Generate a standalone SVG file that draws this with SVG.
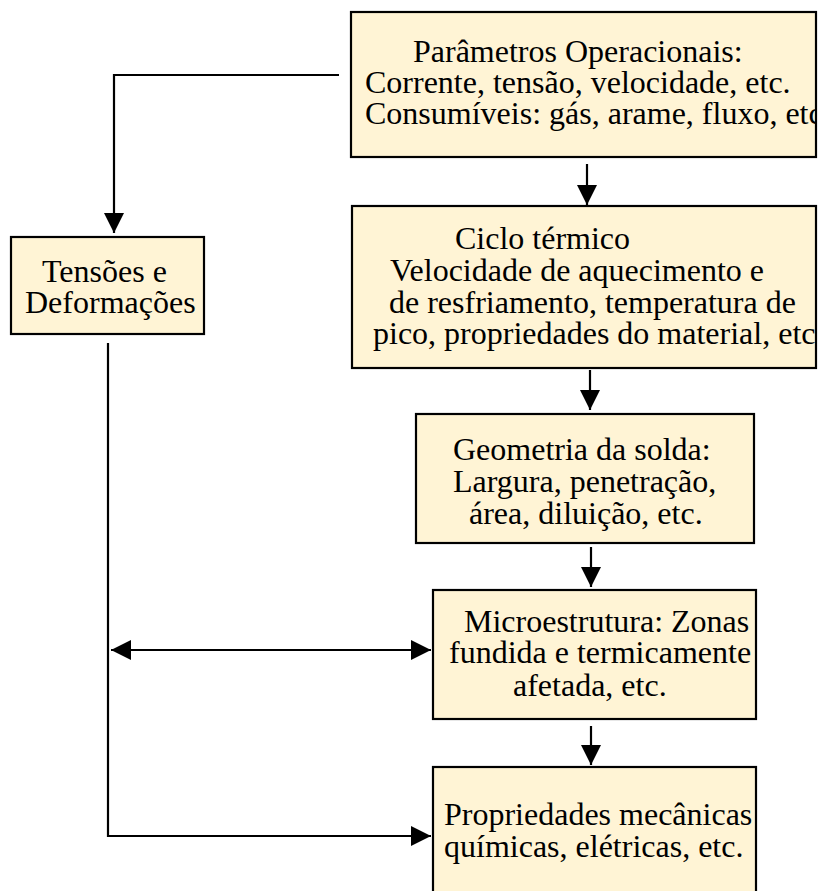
<svg xmlns="http://www.w3.org/2000/svg" width="819" height="891" viewBox="0 0 819 891">
<style>
.box{fill:#FFF4D5;stroke:#000;stroke-width:2.2}
.t{font-family:"Liberation Serif","Times New Roman",serif;font-size:32px;fill:#000}
.c{fill:none;stroke:#000;stroke-width:2.2}
</style>
<defs>
<marker id="ah" markerUnits="userSpaceOnUse" markerWidth="20" markerHeight="21" viewBox="0 0 10 10" refX="10" refY="5" orient="auto-start-reverse">
<path d="M0,0 L10,5 L0,10 z" fill="#000"/>
</marker>
<clipPath id="cp1"><rect x="351" y="12" width="465" height="145"/></clipPath>
<clipPath id="cp2"><rect x="352" y="206" width="464" height="162"/></clipPath>
<clipPath id="cp5"><rect x="433" y="767" width="324" height="140"/></clipPath>
</defs>
<g id="connectors">
<path class="c" d="M339,75 H114 V233" marker-end="url(#ah)"/>
<path class="c" d="M587,164 V205" marker-end="url(#ah)"/>
<path class="c" d="M590,370 V410" marker-end="url(#ah)"/>
<path class="c" d="M591,547 V587" marker-end="url(#ah)"/>
<path class="c" d="M591,726 V765" marker-end="url(#ah)"/>
<path class="c" d="M111,650 H431" marker-start="url(#ah)" marker-end="url(#ah)"/>
<path class="c" d="M108,343 V836 H431" marker-end="url(#ah)"/>
</g>
<g id="n1">
<rect class="box" x="351" y="12" width="465" height="145"/>
<g clip-path="url(#cp1)">
<text class="t" x="413" y="62">Parâmetros Operacionais:</text>
<text class="t" x="365" y="93">Corrente, tensão, velocidade, etc.</text>
<text class="t" x="365" y="124">Consumíveis: gás, arame, fluxo, etc</text>
</g>
</g>
<g id="n2">
<rect class="box" x="352" y="206" width="464" height="162"/>
<g clip-path="url(#cp2)">
<text class="t" x="455" y="249">Ciclo térmico</text>
<text class="t" x="390" y="281">Velocidade de aquecimento e</text>
<text class="t" x="389" y="313">de resfriamento, temperatura de</text>
<text class="t" x="373" y="344">pico, propriedades do material, etc</text>
</g>
</g>
<g id="n3">
<rect class="box" x="416" y="414" width="338" height="129"/>
<text class="t" x="453" y="460">Geometria da solda:</text>
<text class="t" x="453" y="492">Largura, penetração,</text>
<text class="t" x="469" y="524">área, diluição, etc.</text>
</g>
<g id="n4">
<rect class="box" x="433" y="590" width="323" height="129"/>
<text class="t" x="464" y="632">Microestrutura: Zonas</text>
<text class="t" x="449" y="663">fundida e termicamente</text>
<text class="t" x="513" y="696">afetada, etc.</text>
</g>
<g id="n5">
<rect class="box" x="433" y="767" width="323" height="140"/>
<g clip-path="url(#cp5)">
<text class="t" x="444" y="825">Propriedades mecânicas</text>
<text class="t" x="444" y="857">químicas, elétricas, etc.</text>
</g>
</g>
<g id="n6">
<rect class="box" x="11" y="237" width="193" height="97"/>
<text class="t" x="42" y="282">Tensões e</text>
<text class="t" x="25" y="313">Deformações</text>
</g>
</svg>
